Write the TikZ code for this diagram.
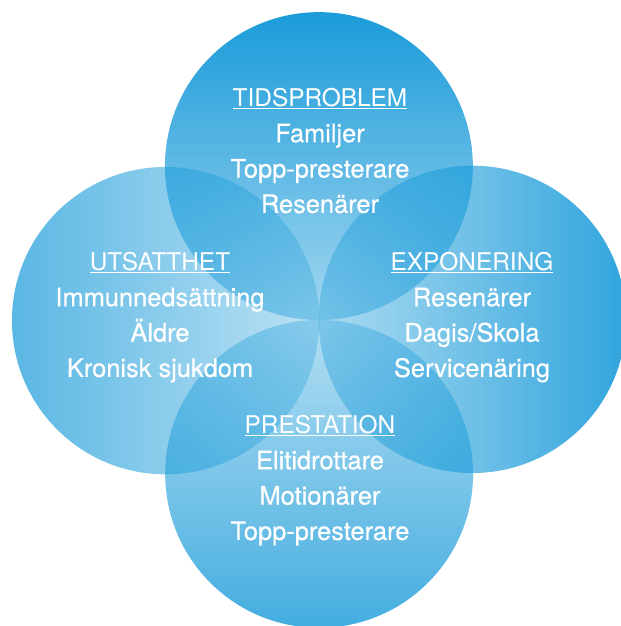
\documentclass[tikz,border=0pt]{standalone}
\usepackage{fontspec}
\setmainfont{TeX Gyre Heros}
\newfontfamily\vennfont{TeX Gyre Heros}[FakeBold=0.5]
\usetikzlibrary{fadings,positioning}

\definecolor{vennblue}{HTML}{1A9BD9}
\tikzfading[name=fadecentre, top color=transparent!0, middle color=transparent!8, bottom color=transparent!60]
\newcommand{\vennhead}[1]{{\normalfont\fontsize{24.5}{35.5}\selectfont\underline{#1}}}

\begin{document}
\begin{tikzpicture}[x=1bp, y=1bp,
    petal/.style={fill=vennblue, path fading=fadecentre},
    lbl/.style={text=white, align=center, inner sep=0pt, anchor=north,
      font=\vennfont\fontsize{25.5}{35.5}\selectfont}]
  \useasboundingbox (0,0) rectangle (621,626);
  % the four circles meet in one point
  \coordinate (O) at (319,306);
  \fill[petal, fill opacity=1.0] (319,460) circle (154bp);
  \fill[petal, fill opacity=0.90, fading angle=-90] (473,306) circle (154bp);
  \fill[petal, fill opacity=0.82, fading angle=180] (319,152) circle (154bp);
  \fill[petal, fill opacity=0.72, fading angle=90] (165,306) circle (154bp);
  % texts
  \node[lbl] (tids) at (320,537.6) {\vennhead{TIDSPROBLEM}\\Familjer\\Topp-presterare\\Resenärer};
  \node[lbl] (utsatt) at (160,373.6) {\vennhead{UTSATTHET}\\Immunnedsättning\\Äldre\\Kronisk sjukdom};
  \node[lbl] (expon) at (472,373.6) {\vennhead{EXPONERING}\\Resenärer\\Dagis/Skola\\Servicenäring};
  \node[lbl] (prest) at (320,210.6) {\vennhead{PRESTATION}\\Elitidrottare\\Motionärer\\Topp-presterare};
\end{tikzpicture}
\end{document}
